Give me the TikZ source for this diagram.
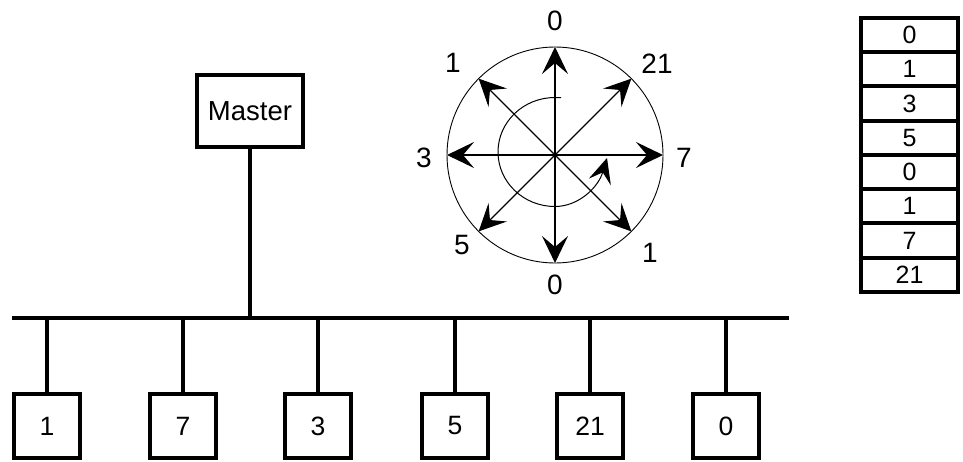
\documentclass[tikz,border=0pt]{standalone}
\usepackage{fontspec}
\setmainfont{Liberation Sans}
\usetikzlibrary{arrows.meta}
\begin{document}
\begin{tikzpicture}[x=1pt,y=-1pt,
  heavy/.style={line width=4pt},
  station/.style={draw,line width=4pt,minimum width=66pt,minimum height=64pt,inner sep=0pt,font=\fontsize{26.5}{28}\selectfont},
  masterbox/.style={draw,line width=4pt,minimum width=106pt,minimum height=72pt,inner sep=0pt,font=\fontsize{27.5}{30}\selectfont},
  cell/.style={draw,line width=4pt,minimum width=97pt,minimum height=34.25pt,inner sep=0pt,font=\fontsize{25}{26}\selectfont},
  spoke/.style={line width=1.1pt,-{Stealth[length=27pt,width=26pt,inset=11pt]}},
  dirlabel/.style={font=\fontsize{28}{30}\selectfont,inner sep=0pt}]
\useasboundingbox[fill=white] (0,0) rectangle (963,461);

% bus
\coordinate (busL) at (12,318);
\coordinate (busR) at (789,318);
\draw[heavy] (busL) -- (busR);

% master
\node[masterbox] (master) at (250,111) {\raisebox{-4pt}{Master}\hspace{9pt}};
\draw[heavy] (master.south) -- (master.south |- busL);

% stations
\foreach \n/\x/\t in {s1/47/1,s2/183/7,s3/318/3,s4/455/5,s5/590/21,s6/726/0}{
  \node[station] (\n) at (\x,426) {\t};
  \draw[heavy] (\n.north) -- (\n.north |- busL);
}

% circle
\coordinate (c) at (555,155);
\node[draw,circle,line width=0.9pt,minimum size=216pt,inner sep=0pt] (ring) at (c) {};
\foreach \a in {0,45,...,315}{
  \draw[spoke] (c) -- ++(\a:108);
}
\draw[line width=1pt,-{Stealth[length=25pt,width=23pt,inset=10pt]}]
  (561,97.5) -- (555,97.5) arc[start angle=270,end angle=90,x radius=57,y radius=54.5]
  .. controls (578,206.5) and (598,188) .. (607,158);

% direction labels
\node[dirlabel] (l0t) at (555,21) {0};
\node[dirlabel] (l21) at (657,64) {21};
\node[dirlabel] (l7) at (684,158) {7};
\node[dirlabel] (l1r) at (650,253) {1};
\node[dirlabel] (l0b) at (555,285) {0};
\node[dirlabel] (l5) at (462,245) {5};
\node[dirlabel] (l3) at (424,158) {3};
\node[dirlabel] (l1l) at (453,63) {1};

% table
\foreach \i/\t in {0/0,1/1,2/3,3/5,4/0,5/1,6/7,7/21}{
  \node[cell] (t\i) at (909.5,{35.1+\i*34.25}) {\t};
}
\end{tikzpicture}
\end{document}
